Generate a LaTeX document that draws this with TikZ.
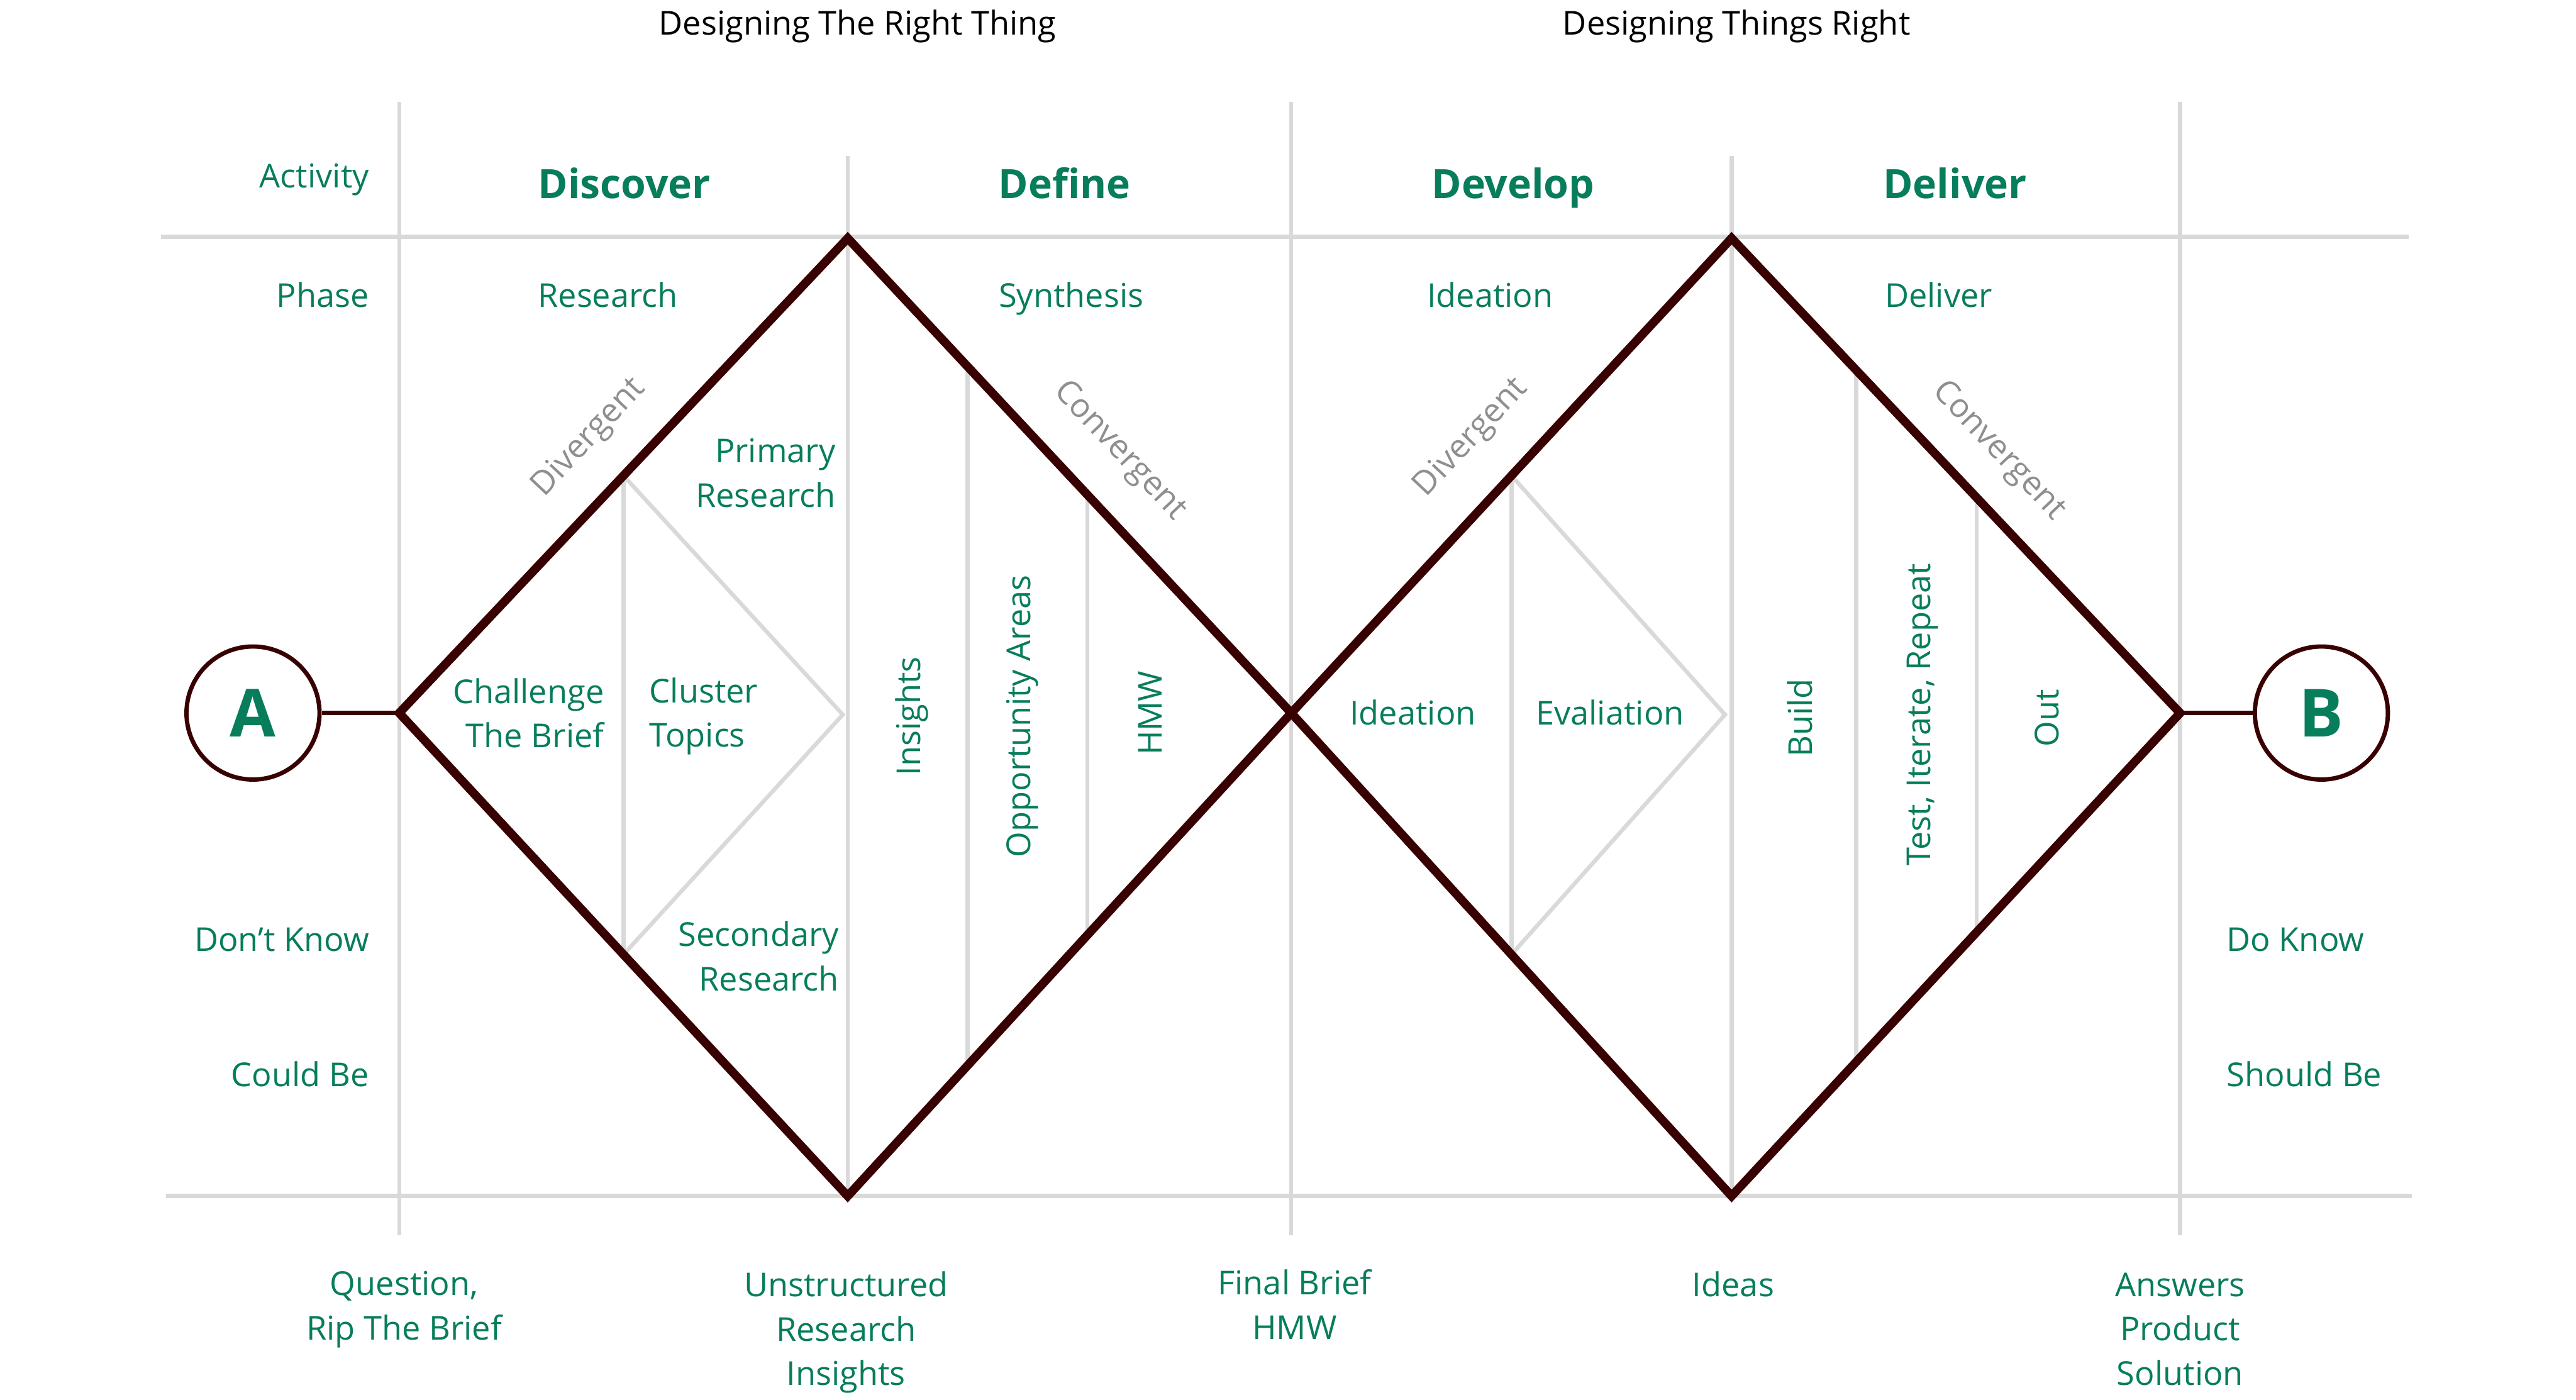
\documentclass[tikz,border=0pt]{standalone}
\usepackage{fontspec}
\setmainfont{Open Sans}
\usepackage{tikz}
\usetikzlibrary{calc}
\definecolor{leaf}{HTML}{077D5C}
\definecolor{wine}{HTML}{380000}
\definecolor{rulegray}{HTML}{D9D9D9}
\definecolor{flowgray}{HTML}{8F8F8F}

\begin{document}
\begin{tikzpicture}[x=0.02cm,y=-0.02cm,
  every node/.style={inner sep=0pt,text=leaf,font=\fontsize{11.4}{15.4}\selectfont},
  oneline/.style={text height=8.1pt,text depth=0pt},
  gridline/.style={draw=rulegray,line width=1.4pt},
  railline/.style={draw=rulegray,line width=1.5pt},
  diamline/.style={draw=wine,line width=3pt,line join=miter},
  linkline/.style={draw=wine,line width=1.5pt},
  stage/.style={font=\fontsize{14}{17}\selectfont\bfseries,text height=10pt,text depth=0pt},
  flowtext/.style={oneline,text=flowgray},
  endpoint/.style={circle,draw=wine,line width=1.5pt,minimum size=1.62cm,font=\fontsize{23}{26}\selectfont\bfseries}]
  \useasboundingbox (0,0) rectangle (1568,852);
  \coordinate (a1) at (243,434);
  \coordinate (a2) at (516,145);
  \coordinate (a3) at (786,434);
  \coordinate (a4) at (516,728);
  \coordinate (b2) at (1054,145);
  \coordinate (b3) at (1327,434);
  \coordinate (b4) at (1054,728);
  \draw[railline] (98,144) -- (1466,144);
  \draw[railline] (101,728) -- (1468,728);
  \draw[gridline] (243,62) -- (243,752);
  \draw[gridline] (786,62) -- (786,752);
  \draw[gridline] (1327,62) -- (1327,752);
  \draw[gridline] (516,95) -- (a4);
  \draw[gridline] (1054,95) -- (b4);
  \draw[gridline] ($(a1)!0.5!(a2)$) -- ($(a1)!0.5!(a4)$);
  \draw[gridline] ($(a1)!0.5!(a2)$) -- (513,435) -- ($(a1)!0.5!(a4)$);
  \draw[gridline] ($(a2)!0.27!(a3)$) -- ($(a4)!0.27!(a3)$);
  \draw[gridline] ($(a2)!0.54!(a3)$) -- ($(a4)!0.54!(a3)$);
  \draw[gridline] ($(a3)!0.5!(b2)$) -- ($(a3)!0.5!(b4)$);
  \draw[gridline] ($(a3)!0.5!(b2)$) -- (1050,435) -- ($(a3)!0.5!(b4)$);
  \draw[gridline] ($(b2)!0.278!(b3)$) -- ($(b4)!0.278!(b3)$);
  \draw[gridline] ($(b2)!0.546!(b3)$) -- ($(b4)!0.546!(b3)$);
  \draw[diamline] (a1) -- (a2) -- (a3) -- (a4) -- cycle;
  \draw[diamline] (a3) -- (b2) -- (b3) -- (b4) -- cycle;
  \node[endpoint] (start) at (154,434) {A};
  \node[endpoint] (finish) at (1413,434) {B};
  \draw[linkline] (start) -- (a1);
  \draw[linkline] (b3) -- (finish);
  \node[oneline,text=black] (rightthing) at (522,14) {Designing The Right Thing};
  \node[oneline,text=black] (thingsright) at (1057,14) {Designing Things Right};
  \node[oneline,anchor=east] (activity) at (225,107) {Activity};
  \node[oneline,anchor=east] (phase) at (225,180) {Phase};
  \node[oneline,anchor=east] (dontknow) at (225,572) {Don’t Know};
  \node[oneline,anchor=east] (couldbe) at (225,654) {Could Be};
  \node[oneline,anchor=west] (doknow) at (1355,572) {Do Know};
  \node[oneline,anchor=west] (shouldbe) at (1355,654) {Should Be};
  \node[stage] (discover) at (380,112) {Discover};
  \node[stage] (define) at (648,112) {Define};
  \node[stage] (develop) at (921,112) {Develop};
  \node[stage] (deliver) at (1190,112) {Deliver};
  \node[oneline] (research) at (370,180) {Research};
  \node[oneline] (synthesis) at (652,180) {Synthesis};
  \node[oneline] (ideation) at (907,180) {Ideation};
  \node[oneline] (delivery) at (1180,180) {Deliver};
  \node[flowtext,rotate=46.7] (divleft) at (357,265) {Divergent};
  \node[flowtext,rotate=-46.7] (conleft) at (683,273) {Convergent};
  \node[flowtext,rotate=46.7] (divright) at (894,265) {Divergent};
  \node[flowtext,rotate=-46.7] (conright) at (1218,273) {Convergent};
  \node[anchor=east,align=right] (primary) at (509,288) {Primary\\Research};
  \node[anchor=east,align=right] (challenge) at (368,434) {Challenge\\The Brief};
  \node[anchor=west,align=left] (cluster) at (395,436) {Cluster\\Topics};
  \node[anchor=east,align=right] (secondary) at (511,582) {Secondary\\Research};
  \node[oneline,rotate=90] (insights) at (553,436) {Insights};
  \node[oneline,rotate=90] (opportunity) at (620,436) {Opportunity Areas};
  \node[oneline,rotate=90] (hmw) at (700,434) {HMW};
  \node[oneline] (ideate) at (860,434) {Ideation};
  \node[oneline] (evaluate) at (980,434) {Evaliation};
  \node[oneline,rotate=90] (build) at (1096,437) {Build};
  \node[oneline,rotate=90] (iterate) at (1168,435) {Test, Iterate, Repeat};
  \node[oneline,rotate=90] (out) at (1246,437) {Out};
  \node[align=center] (question) at (246,797) {Question,\\Rip The Brief};
  \node[align=center] (unstructured) at (515,811) {Unstructured\\Research\\Insights};
  \node[align=center] (finalbrief) at (788,794) {Final Brief\\HMW};
  \node[oneline] (ideas) at (1055,782) {Ideas};
  \node[align=center] (answers) at (1327,809) {Answers\\Product\\Solution};
\end{tikzpicture}
\end{document}
